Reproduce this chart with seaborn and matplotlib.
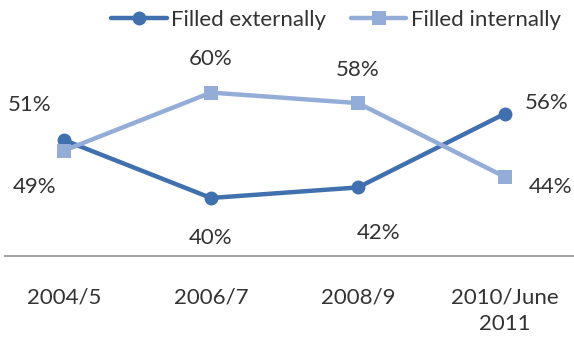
import matplotlib
matplotlib.use("Agg")
import matplotlib.pyplot as plt
import seaborn as sns
import pandas as pd
from matplotlib.lines import Line2D

periods = ["2004/5", "2006/7", "2008/9", "2010/June\n2011"]
filled_externally = [51, 40, 42, 56]
filled_internally = [49, 60, 58, 44]
series_names = ["Filled externally", "Filled internally"]

sns.set_theme(style="white")
plt.rcParams["font.family"] = ["Lato", "DejaVu Sans"]

df = pd.DataFrame({
    "x": list(range(len(periods))) * 2,
    "value": filled_externally + filled_internally,
    "series": [series_names[0]] * len(periods) + [series_names[1]] * len(periods),
})

dark = "#4170AE"
light = "#94ADD8"
text_color = "#333333"
fs = 16

fig = plt.figure(figsize=(5.74, 3.41), dpi=100)
ax = fig.add_axes([5 / 574, 1 - 256 / 341, 569 / 574, 256 / 341])

sns.lineplot(data=df, x="x", y="value", hue="series", style="series",
             palette=[dark, light], markers=["o", "s"], dashes=False,
             linewidth=3.2, markersize=10, markeredgewidth=0, ax=ax, legend=False)

ax.set_xlim(-59 / 147, 3 + 69 / 147)
ax.set_ylim(51 - 116 / 5.27, 51 + 140 / 5.27)

# value labels
ext_offsets = [(-25, 25), (0, -29), (15, -33), (30, 8)]
int_offsets = [(-21, -26), (0, 24), (0, 24), (33, -7)]
for i, v in enumerate(filled_externally):
    ax.annotate(f"{v}%", (i, v), xytext=ext_offsets[i], textcoords="offset points",
                ha="center", va="center", fontsize=fs, color=text_color)
for i, v in enumerate(filled_internally):
    ax.annotate(f"{v}%", (i, v), xytext=int_offsets[i], textcoords="offset points",
                ha="center", va="center", fontsize=fs, color=text_color)

for s in ["top", "right", "left"]:
    ax.spines[s].set_visible(False)
ax.spines["bottom"].set_color("#9A9A9A")
ax.spines["bottom"].set_linewidth(1.3)
ax.set_yticks([])
ax.set_xticks(range(len(periods)))
ax.set_xticklabels(periods, fontsize=fs, color=text_color, va="top", linespacing=1.35)
ax.tick_params(axis="x", length=0, pad=23)
ax.set_xlabel("")
ax.set_ylabel("")

handles = [Line2D([], [], color=dark, marker="o", lw=3.2, ms=10, mew=0),
           Line2D([], [], color=light, marker="s", lw=3.2, ms=10, mew=0)]
fig.legend(handles, series_names, loc="upper right", bbox_to_anchor=(1.012, 1.03),
           ncol=2, frameon=False, fontsize=fs, handlelength=2.5, columnspacing=1.1,
           handletextpad=0.2, labelcolor=text_color)

fig.savefig("out.png", dpi=100)
